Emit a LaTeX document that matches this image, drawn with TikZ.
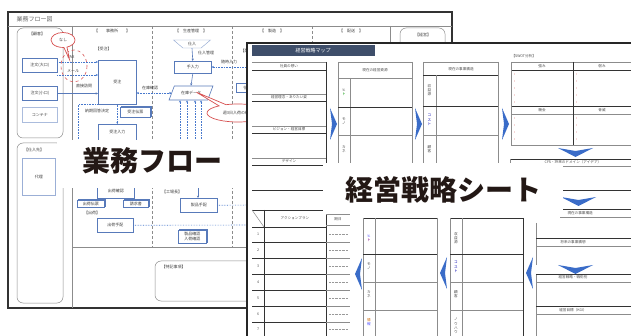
\documentclass[tikz,border=0pt]{standalone}
\usepackage{fontspec}
\setmainfont{Noto Sans CJK JP}
\usetikzlibrary{shapes.geometric,shapes.callouts,arrows.meta,shadows,calc}
\definecolor{bl}{RGB}{88,122,186}
\definecolor{dotc}{RGB}{70,120,205}
\definecolor{rd}{RGB}{215,80,80}
\definecolor{ttlc}{RGB}{62,78,106}
\definecolor{arr}{RGB}{58,108,200}
\definecolor{ink}{RGB}{35,24,21}
\tikzset{
 rarrow/.pic={\fill[arr] (0,0) -- (7,16) -- (0,32) -- (2,16) -- cycle;},
 larrow/.pic={\fill[arr] (7,0) -- (0,16) -- (7,32) -- (5,16) -- cycle;},
 darrow/.pic={\fill[arr] (0,0) -- (17.5,3) -- (35,0) -- (17.5,9) -- cycle;},
}
\begin{document}
\begin{tikzpicture}[x=1pt,y=-1pt,
 tiny/.style={font=\fontsize{4}{4.8}\selectfont, text=black!75, inner sep=0.3pt},
 lab/.style={font=\fontsize{3.6}{4.3}\selectfont, text=black!70, inner sep=0.3pt, align=center},
 bx/.style={draw=bl, fill=white, line width=0.6pt, font=\fontsize{4}{4.8}\selectfont, text=black!75, inner sep=0pt, anchor=north west},
 bxs/.style={bx, copy shadow={shadow xshift=1.4pt, shadow yshift=1.4pt, draw=bl, fill=white}},
 dotar/.style={draw=dotc, densely dotted, line width=0.6pt, -{Stealth[length=2.2pt,width=2pt]}},
 dotl/.style={draw=dotc, densely dotted, line width=0.6pt},
 sol/.style={draw=bl, line width=0.6pt, -{Stealth[length=2.4pt,width=2.2pt]}},
 gl/.style={draw=black!45, line width=0.5pt},
 ln/.style={draw=black!45, line width=0.5pt},
 dk/.style={draw=black!80, line width=0.7pt},
 big/.style={font=\fontsize{28}{30}\selectfont\bfseries, text=ink, inner sep=0pt},
]
\useasboundingbox (0,0) rectangle (631,336);
\clip (0,0) rectangle (631,336);
\fill[white] (0,0) rectangle (631,336);

% ================= LEFT DOCUMENT: 業務フロー図 =================
\draw[line width=1.7pt, black!80] (8,12) rectangle (452,308);
\draw[gl] (8,26) -- (452,26);
\node[anchor=west, font=\fontsize{6}{7}\selectfont, text=black!60] (ttl) at (13,19) {業務フロー図};

\draw[gl] (72,26) -- (72,308);
\draw[gl, densely dashed] (152,26) -- (152,247);
\draw[gl, densely dashed] (232,26) -- (232,247);
\draw[gl, densely dashed] (312,26) -- (312,247);
\draw[gl] (390,26) -- (390,247);
\draw[gl] (72,247) -- (452,247);

\node[tiny] (h1) at (112,31) {【　　事務所　　】};
\node[tiny] (h2) at (191,31) {【　生産管理　】};
\node[tiny] (h3) at (272,31) {【　製造　】};
\node[tiny] (h4) at (351,31) {【　配送　】};

\draw[gl, rounded corners=6] (17,28) rectangle (63,138);
\node[tiny] (kk) at (37,34) {【顧客】};
\draw[gl, rounded corners=6] (17,143) rectangle (63,303);
\node[tiny] (sr) at (34,150) {【仕入先】};
\node[bx, draw=bl!60, minimum width=33pt, minimum height=37pt] (dr) at (22,158) {代理};
\draw[gl, rounded corners=6] (400,28) rectangle (445,240);
\node[tiny] (kei) at (423,35) {【経営】};
\draw[gl, rounded corners=6] (155,261) rectangle (430,301);
\node[tiny, anchor=west] (tk) at (161,267) {【特記事項】};

% customers
\node[bx, minimum width=35pt, minimum height=14pt] (oL) at (22,58) {注文(大口)};
\node[bx, line width=0.9pt, minimum width=35pt, minimum height=14pt] (oS) at (22,86) {注文(小口)};
\node[bx, draw=bl!50, minimum width=35pt, minimum height=15pt] (oC) at (22,107) {コンテナ};

% order
\node[tiny, anchor=west] (jl) at (95,49) {【受注】};
\node[bx, minimum width=38pt, minimum height=44pt] (jc) at (98,60) {受注};
\node[tiny] (fax) at (71,57) {FAX};
\node[tiny] (mail) at (73,71) {メール};
\coordinate (f1) at (57,62);
\coordinate (m1) at (57,75);
\draw[dotar] (f1) -- (f1 -| jc.west);
\draw[dotar] (m1) -- (m1 -| jc.west);
\draw[sol] (oS.east) -- (oS.east -| jc.west);
\node[tiny] (chok) at (84,86) {直接訪問};
\draw[rd, dashed, line width=0.6pt] (74,66) ellipse [x radius=13, y radius=16];
\node[ellipse callout, draw=rd, fill=white, line width=0.7pt, tiny, minimum width=24pt, minimum height=15pt, callout relative pointer={(4,12)}] (nashi) at (63,40) {なし};

\node[tiny] (noki) at (97,111) {納期回答決定};
\node[bxs, line width=0.8pt, minimum width=30pt, minimum height=10pt] (jd) at (120,107) {受注伝票};
\node[bx, minimum width=38pt, minimum height=16pt] (ji) at (98,124) {受注入力};
\draw[dotar] (jc.south) -- (ji.north);
\coordinate (q1) at (78,142);
\draw[dotl] (q1) |- (jc.south west);

% production control
\node[trapezium, trapezium angle=45, trapezium stretches=true, shape border rotate=180, draw=bl!70, fill=white, tiny, minimum width=37pt, minimum height=8pt, inner sep=0.5pt] (si) at (192,44) {仕入};
\node[tiny] (sik) at (206,53) {仕入管理};
\node[bx, minimum width=37pt, minimum height=12pt] (te) at (174,61) {手入力};
\draw[sol] (si.south) -- (te.north);
\node[tiny] (zui) at (229,62) {随時入力};
\node[bx, minimum width=26pt, minimum height=9pt] (sw) at (236,83) {仕分け};
\coordinate (ri) at (247,67);
\draw[dotar] (ri) -- (ri -| te.east);
\node[trapezium, trapezium left angle=55, trapezium right angle=125, trapezium stretches=true, draw=bl, fill=white, line width=0.6pt, tiny, minimum width=44pt, minimum height=14pt, inner sep=0.5pt] (zd) at (191,93) {在庫データ};
\draw[sol] (te.south) -- (zd.north);
\draw[dotar, {Stealth[length=2.2pt,width=2pt]}-{Stealth[length=2.2pt,width=2pt]}] (jc.east |- zd.west) -- (zd.west);
\node[tiny] (zk) at (150,88) {在庫確認};
\foreach \xx [count=\i] in {180,187,195,201}{
  \coordinate (u\i) at (\xx,142);
  \draw[dotar] (u\i) -- (u\i |- zd.south);
}
\node[ellipse callout, draw=rd, fill=white, line width=0.7pt, tiny, minimum width=62pt, minimum height=18pt, callout relative pointer={(-26,-13)}] (cb) at (238,113) {週3日入荷の確認};
\node[tiny, anchor=west] (h5) at (240,51) {【配達】};

% lower part
\node[bx, minimum width=37pt, minimum height=14pt] (sk) at (97,184) {出荷確認};
\node[bxs, minimum width=27pt, minimum height=7pt] (dv) at (77,200) {出荷伝票};
\node[bxs, minimum width=25pt, minimum height=7pt] (inv) at (123,200) {請求書};
\node[tiny] (sh0) at (92,213) {【出荷】};
\node[bx, minimum width=36pt, minimum height=14pt] (sh) at (97,218) {出荷手配};
\coordinate (sr1) at (250,225);
\draw[dotl] (sh.east) -- (sr1);
\node[tiny] (kj0) at (172,192) {【工場長】};
\node[bx, minimum width=37pt, minimum height=14pt] (sp) at (180,198) {製品手配};
\coordinate (sr2) at (250,205);
\draw[dotl] (sp.east) -- (sr2);
\coordinate (sp0) at (198,186);
\draw[sol] (sp0) -- (sp0 |- sp.north);
\node[bxs, align=center, minimum width=28pt, minimum height=13pt] (sc) at (178,230) {製品確認\\入荷確認};

% label 業務フロー
\fill[white] (57,140) rectangle (250,188);
\node[big] (lb1) at (152.5,161) {業務フロー};

% ================= RIGHT SHEET: 経営戦略マップ =================
\fill[white] (247,43) rectangle (640,345);
\draw[line width=1.9pt, black!85] (247,345) -- (247,43) -- (640,43);
\fill[ttlc] (252,45) rectangle (375,56);
\node[font=\fontsize{5}{6}\selectfont, text=white] (t2) at (313,50.5) {経営戦略マップ};

% column A
\draw[ln] (252,62) -- (326,62);
\node[lab] (a1) at (289,66) {社員の想い};
\draw[dk] (252,70) -- (326,70);
\draw[ln] (252,94) -- (326,94);
\node[lab] (a2) at (289,97.5) {経営理念・ありたい姿};
\draw[dk] (252,101) -- (326,101);
\draw[ln] (252,126) -- (326,126);
\node[lab] (a3) at (289,129.5) {ビジョン・経営目標};
\draw[dk] (252,133) -- (326,133);
\draw[ln] (252,158) -- (326,158);
\node[lab] (a4) at (289,161.5) {デザイン};
\draw[dk] (252,165) -- (326,165);
\draw[dk] (252,190) -- (326,190);
\draw[dk] (326,62) -- (326,336);

% action plan
\draw[dk] (252,210) -- (326,210);
\draw[ln] (252,210) -- (264,227);
\draw[dk] (264,210) -- (264,336);
\node[lab] (ap) at (295,218) {アクションプラン};
\draw[dk] (252,227) -- (326,227);
\foreach \yy in {242,258,274,290,306,322}{
  \draw[dk] (252,\yy) -- (326,\yy);
  \draw[ln] (326,\yy) -- (350,\yy);
}
\foreach \n/\yy in {1/234.5,2/250,3/266,4/282,5/298,6/314,7/329.5}{
  \node[lab] at (258,\yy) {\n};
  \draw[black!40, densely dotted] (329,\yy) -- (348,\yy);
}
\draw[ln] (326,214) -- (350,214);
\node[lab] (kjt) at (338,219.5) {期日};
\draw[ln] (326,225) -- (350,225);

% column B top
\draw[ln] (338,62) -- (412,62);
\draw[ln] (338,62) -- (338,214);
\draw[ln] (412,62) -- (412,214);
\node[lab] (b0) at (375,70) {現在の経営資源};
\draw[ln] (338,78) -- (412,78);
\draw[ln] (350,78) -- (350,214);
\draw[dk] (338,107) -- (412,107);
\draw[ln] (338,135) -- (412,135);
\draw[ln] (338,163) -- (412,163);
\node[lab] (b1) at (344,92) {ヒ\\\textcolor{green!60!black}{ト}};
\node[lab] (b2) at (344,121) {モ\\ノ};
\node[lab] (b3) at (344,149) {カ\\ネ};

% column C top
\draw[ln] (423,62) -- (498,62);
\draw[ln] (423,62) -- (423,214);
\draw[ln] (498,62) -- (498,214);
\node[lab] (c0) at (461,69) {現在の事業構造};
\draw[dk] (423,75) -- (498,75);
\draw[ln] (436,75) -- (436,214);
\draw[dk] (423,106) -- (498,106);
\draw[ln] (423,135) -- (498,135);
\node[lab] (c1) at (429.5,90) {収\\益\\源};
\node[lab, text=blue!70!black] (c2) at (429.5,120) {コ\\ス\\ト};
\node[lab] (c3) at (429.5,149) {顧\\客};

% column D : SWOT
\node[lab, anchor=west] (d0) at (511,56) {【SWOT分析】};
\draw[ln] (511,62) -- (640,62);
\draw[dk] (511,70) -- (640,70);
\draw[dk] (511,106) -- (640,106);
\draw[ln] (511,114) -- (640,114);
\draw[ln] (511,145) -- (640,145);
\draw[ln] (511,62) -- (511,145);
\draw[dk] (573,62) -- (573,145);
\node[lab] (d1) at (542,66) {強み};
\node[lab] (d2) at (602,66) {弱み};
\node[lab] (d3) at (542,110) {機会};
\node[lab] (d4) at (602,110) {脅威};
\foreach \yy in {74,81,88,95,102,118,125,132,139}{
  \fill[rd] (514.5,\yy) circle (0.45);
  \fill[rd] (576.5,\yy) circle (0.45);
}
\pic at (558,148) {darrow};
\draw[dk] (510,159) -- (640,159);
\node[lab] (d5) at (573,162.5) {CFS・将来のドメイン（アイデア）};
\draw[ln] (510,166) -- (640,166);
\draw[ln] (510,159) -- (510,214);
\draw[dk] (560,190) -- (640,190);
\pic at (561,197) {darrow};
\draw[dk] (560,209) -- (640,209);
\node[lab, anchor=west] (d6) at (567,213) {現在の事業構造};
\draw[ln] (560,217) -- (640,217);

% arrows between columns
\pic at (330,108) {rarrow};
\pic at (415,108) {rarrow};
\pic at (502,108) {rarrow};

% column B bottom
\draw[dk] (363,218) -- (437,218);
\draw[ln] (363,218) -- (363,336);
\draw[ln] (375,218) -- (375,336);
\draw[ln] (437,218) -- (437,336);
\draw[dk] (363,254) -- (437,254);
\draw[ln] (363,282) -- (437,282);
\draw[ln] (363,310) -- (437,310);
\node[lab] (e1) at (369,238) {\textcolor{blue!70}{ヒ}\\\textcolor{violet}{ト}};
\node[lab] (e2) at (369,266) {モ\\ノ};
\node[lab] (e3) at (369,294) {カ\\ネ};
\node[lab] (e4) at (369,322) {\textcolor{orange!80!black}{情}\\\textcolor{blue!70}{報}};

% column C bottom
\draw[dk] (450,218) -- (523,218);
\draw[ln] (450,218) -- (450,336);
\draw[ln] (462,218) -- (462,336);
\draw[dk] (523,218) -- (523,336);
\draw[dk] (450,254) -- (523,254);
\draw[ln] (450,282) -- (523,282);
\draw[ln] (450,310) -- (523,310);
\node[lab] (g1) at (456,238) {収\\益\\源};
\node[lab, text=blue!70!black] (g2) at (456,267) {コ\\ス\\ト};
\node[lab] (g3) at (456,294) {顧\\客};
\node[lab] (g4) at (456,326) {ノ\\ウ\\ハ\\ウ};

% column D bottom
\draw[ln] (536,223) -- (536,265);
\draw[dk] (536,238) -- (640,238);
\node[lab] (h6) at (573,242) {将来の事業構想};
\draw[ln] (536,246) -- (640,246);
\pic at (558,265) {darrow};
\draw[ln] (536,274) -- (536,336);
\draw[dk] (536,274) -- (640,274);
\node[lab] (h7) at (573,277.5) {経営戦略・戦術別};
\draw[ln] (536,282) -- (640,282);
\draw[dk] (536,306) -- (640,306);
\node[lab] (h8) at (573,310) {経営目標（KGI）};
\draw[ln] (536,314) -- (640,314);

\pic at (355,258) {larrow};
\pic at (440,257) {larrow};
\pic at (526,257) {larrow};

% label 経営戦略シート
\fill[white] (323,163) rectangle (563,214);
\node[big] (lb2) at (443,190) {経営戦略シート};
\end{tikzpicture}
\end{document}
